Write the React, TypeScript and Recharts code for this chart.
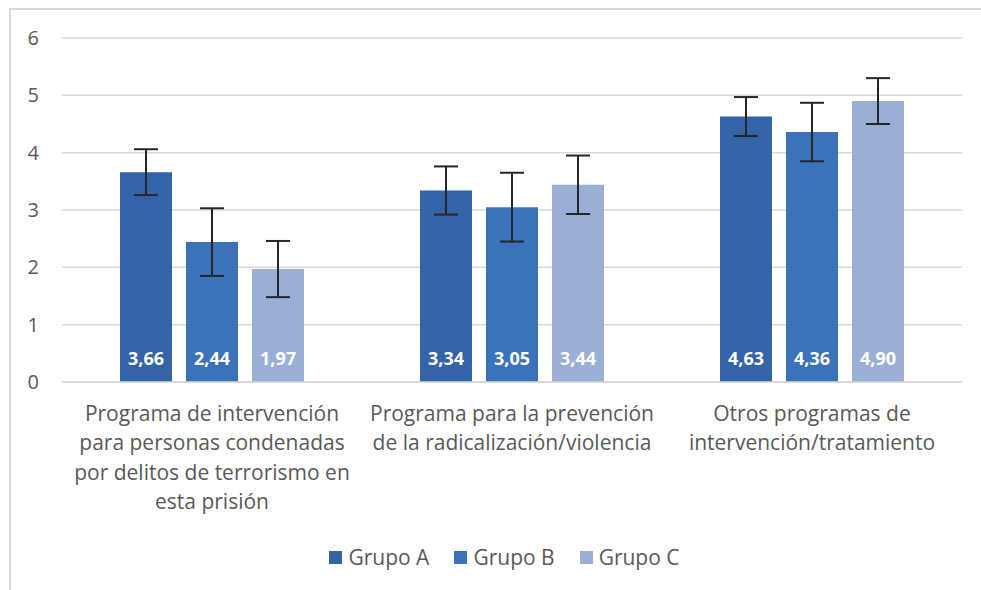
import React from "react";
import {
  BarChart,
  Bar,
  XAxis,
  YAxis,
  CartesianGrid,
  ErrorBar,
  LabelList,
  Legend,
} from "recharts";

const categories = [
  "Programa de intervención\npara personas condenadas\npor delitos de terrorismo en\nesta prisión",
  "Programa para la prevención\nde la radicalización/violencia",
  "Otros programas de\nintervención/tratamiento",
];
const grupoA = [3.66, 3.34, 4.63];
const grupoB = [2.44, 3.05, 4.36];
const grupoC = [1.97, 3.44, 4.9];
const errorA = [0.4, 0.42, 0.34];
const errorB = [0.59, 0.6, 0.51];
const errorC = [0.49, 0.51, 0.4];
const yTicks = [0, 1, 2, 3, 4, 5, 6];

const series = [
  { key: "a", err: "ea", name: "Grupo A", color: "#3464a8" },
  { key: "b", err: "eb", name: "Grupo B", color: "#3c72bc" },
  { key: "c", err: "ec", name: "Grupo C", color: "#9aafd6" },
];

const data = categories.map((cat, i) => ({
  cat,
  a: grupoA[i],
  b: grupoB[i],
  c: grupoC[i],
  ea: errorA[i],
  eb: errorB[i],
  ec: errorC[i],
}));

const FONT = "'Open Sans', sans-serif";
const fmt = (v: number) => v.toFixed(2).replace(".", ",");

const CategoryTick = (props: any) => {
  const { x, y, payload } = props;
  const lines = String(payload.value).split("\n");
  return (
    <text
      x={x}
      y={y}
      textAnchor="middle"
      fill="#595959"
      fontSize={21}
      fontFamily={FONT}
    >
      {lines.map((l, i) => (
        <tspan key={i} x={x} dy={i === 0 ? 31 : 29.3}>
          {l}
        </tspan>
      ))}
    </text>
  );
};

const LegendContent = () => (
  <div
    style={{
      display: "flex",
      justifyContent: "center",
      gap: 25,
      fontFamily: FONT,
      fontSize: 21,
      color: "#595959",
      paddingLeft: 28,
    }}
  >
    {series.map((s) => (
      <div key={s.key} style={{ display: "flex", alignItems: "center" }}>
        <span
          style={{
            width: 13,
            height: 13,
            background: s.color,
            display: "inline-block",
            marginRight: 6,
          }}
        />
        <span>{s.name}</span>
      </div>
    ))}
  </div>
);

export default function App() {
  return (
    <div
      style={{
        position: "relative",
        width: 981,
        height: 590,
        overflow: "hidden",
        background: "#fff",
      }}
    >
      <style>{`body{margin:0}`}</style>
      <div
        style={{
          position: "absolute",
          left: 9,
          top: 8,
          width: 1200,
          height: 1200,
          borderLeft: "2px solid #d9d9d9",
          borderTop: "2px solid #d9d9d9",
        }}
      />
      <BarChart
        width={981}
        height={590}
        data={data}
        margin={{ top: 38, right: 19, left: 0, bottom: 30 }}
        barSize={52}
        barGap={14}
        style={{ position: "absolute", left: 0, top: 0 }}
      >
        <CartesianGrid
          vertical={false}
          stroke="#d9d9d9"
          strokeWidth={1.5}
        />
        <XAxis
          dataKey="cat"
          height={150}
          tick={<CategoryTick />}
          tickLine={false}
          axisLine={{ stroke: "#d9d9d9", strokeWidth: 1.5 }}
          interval={0}
        />
        <YAxis
          width={62}
          domain={[0, 6]}
          ticks={yTicks}
          tickLine={false}
          axisLine={false}
          tickMargin={17}
          tick={{ fill: "#595959", fontSize: 20, fontFamily: FONT }}
        />
        <Legend
          verticalAlign="bottom"
          content={<LegendContent />}
          wrapperStyle={{ top: 543, left: 0, width: 981 }}
        />
        {series.map((s) => (
          <Bar
            key={s.key}
            dataKey={s.key}
            name={s.name}
            fill={s.color}
            isAnimationActive={false}
          >
            <ErrorBar
              dataKey={s.err}
              width={12}
              stroke="#262626"
              strokeWidth={2}
            />
            <LabelList
              dataKey={s.key}
              position="insideBottom"
              offset={17}
              formatter={(v: any) => fmt(Number(v))}
              fill="#ffffff"
              fontSize={18}
              fontWeight="bold"
              fontFamily={FONT}
            />
          </Bar>
        ))}
      </BarChart>
    </div>
  );
}
